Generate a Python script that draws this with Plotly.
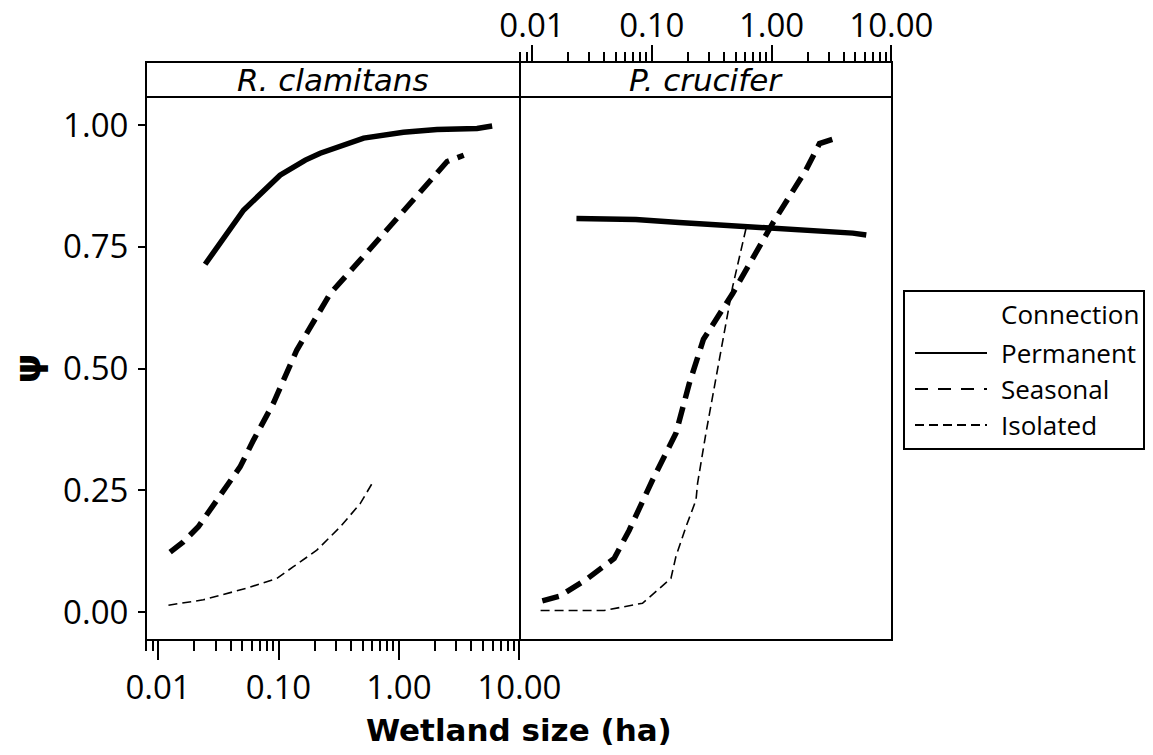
import plotly.graph_objects as go

# ---------------- data ----------------
panels = ["R. clamitans", "P. crucifer"]
series = ["Permanent", "Seasonal", "Isolated"]

rc_perm_x = [0.0246, 0.0512, 0.103, 0.167, 0.222, 0.509, 1.09, 2.07, 4.45, 5.94]
rc_perm_y = [0.714, 0.825, 0.897, 0.928, 0.942, 0.973, 0.985, 0.991, 0.993, 0.998]
rc_seas_x = [0.0126, 0.0162, 0.0216, 0.0327, 0.048, 0.062, 0.0908, 0.142, 0.269, 0.478, 1.09, 2.51, 3.45]
rc_seas_y = [0.123, 0.144, 0.175, 0.237, 0.298, 0.353, 0.429, 0.538, 0.654, 0.723, 0.825, 0.925, 0.938]
rc_isol_x = [0.0122, 0.0238, 0.0546, 0.097, 0.133, 0.208, 0.326, 0.478, 0.605]
rc_isol_y = [0.014, 0.025, 0.049, 0.069, 0.093, 0.127, 0.175, 0.223, 0.266]

pc_perm_x = [0.0235, 0.0736, 0.169, 0.505, 1.32, 4.76, 6.17]
pc_perm_y = [0.808, 0.806, 0.800, 0.793, 0.788, 0.778, 0.774]
pc_seas_x = [0.0122, 0.0168, 0.0281, 0.0485, 0.0648, 0.1014, 0.159, 0.206, 0.27, 0.473, 1.02, 1.94, 2.51, 3.46]
pc_seas_y = [0.023, 0.032, 0.066, 0.110, 0.168, 0.271, 0.367, 0.470, 0.56, 0.654, 0.798, 0.908, 0.962, 0.973]
pc_isol_x = [0.0118, 0.040, 0.0836, 0.1445, 0.159, 0.193, 0.234, 0.241, 0.283, 0.39, 0.473, 0.612]
pc_isol_y = [0.003, 0.003, 0.018, 0.069, 0.114, 0.175, 0.230, 0.264, 0.367, 0.5585, 0.668, 0.788]

x_major = [0.01, 0.1, 1, 10]
x_major_text = ["0.01", "0.10", "1.00", "10.00"]
x_minor_mult = [2, 3, 4, 5, 6, 7, 8, 9]
x_minor_decades = [0.001, 0.01, 0.1, 1]
y_ticks = [0.0, 0.25, 0.5, 0.75, 1.0]
y_text = ["0.00", "0.25", "0.50", "0.75", "1.00"]

# ---------------- layout geometry ----------------
W, H = 1153, 755
ML, MR, MT, MB = 146, 261, 62, 115
PW, PH = W - ML - MR, H - MT - MB
split = (520 - ML) / PW
strip_y = (640 - 97) / PH
XR = [-2.1, 1.005]
YR = [-0.0575, 1.0575]

x_minor = [m * d for d in x_minor_decades for m in x_minor_mult if 0.0079 < m * d < 10.1]

FONT = "Open Sans"
STRIPFONT = "DejaVu Sans"
styles = {
    "Permanent": dict(width=5.5, dash="solid"),
    "Seasonal": dict(width=5.5, dash="17px,9px"),
    "Isolated": dict(width=1.6, dash="9px,5px"),
}

fig = go.Figure()
data_rc = {"Permanent": (rc_perm_x, rc_perm_y), "Seasonal": (rc_seas_x, rc_seas_y), "Isolated": (rc_isol_x, rc_isol_y)}
data_pc = {"Permanent": (pc_perm_x, pc_perm_y), "Seasonal": (pc_seas_x, pc_seas_y), "Isolated": (pc_isol_x, pc_isol_y)}
for s in series:
    xs, ys = data_rc[s]
    fig.add_trace(go.Scatter(x=xs, y=ys, mode="lines", name=s, xaxis="x", yaxis="y",
                             line=dict(color="black", **styles[s]), showlegend=False))
for s in series:
    xs, ys = data_pc[s]
    fig.add_trace(go.Scatter(x=xs, y=ys, mode="lines", name=s, xaxis="x2", yaxis="y",
                             line=dict(color="black", **styles[s]), showlegend=False))

tickfont = dict(family=FONT, size=33, color="black")
minor = dict(tickmode="array", tickvals=x_minor, ticks="outside", ticklen=10,
             tickwidth=1.5, tickcolor="black", showgrid=False)
common_x = dict(type="log", range=XR, showgrid=False, zeroline=False, showline=False,
                ticks="outside", tickcolor="black", automargin=False,
                tickmode="array", tickvals=x_major, ticktext=x_major_text,
                tickwidth=2, tickfont=tickfont, minor=minor)

fig.update_layout(
    width=W, height=H,
    margin=dict(l=ML, r=MR, t=MT, b=MB, autoexpand=False),
    paper_bgcolor="white", plot_bgcolor="white",
    showlegend=False,
    xaxis=dict(common_x, domain=[0, split], anchor="y", side="bottom",
               ticklen=19, ticklabelstandoff=-1),
    xaxis2=dict(common_x, domain=[split, 1], anchor="free", position=1, side="top",
                ticklen=17, ticklabelstandoff=-5),
    yaxis=dict(range=YR, domain=[0, strip_y], anchor="x", showgrid=False, zeroline=False,
               showline=False, tickmode="array", tickvals=y_ticks, ticktext=y_text,
               ticks="outside", ticklen=7, tickwidth=2, tickcolor="black", automargin=False,
               tickfont=tickfont, ticklabelstandoff=3,
               title=dict(text="<b>ψ</b>", font=dict(family="DejaVu Sans", size=38, color="black"), standoff=10)),
)

shapes = []
# panel frames
for x0, x1 in [(0, split), (split, 1)]:
    shapes.append(dict(type="rect", xref="paper", yref="paper", x0=x0, x1=x1, y0=0, y1=1,
                       line=dict(color="black", width=2)))
shapes.append(dict(type="line", xref="paper", yref="paper", x0=0, x1=1, y0=strip_y, y1=strip_y,
                   line=dict(color="black", width=2)))

annotations = []
for i, name in enumerate(panels):
    xc = split / 2 if i == 0 else (split + 1) / 2
    annotations.append(dict(text="<i>" + name + "</i>", x=xc, y=(1 + strip_y) / 2, xref="paper", yref="paper",
                            showarrow=False, font=dict(family=STRIPFONT, size=31, color="black"),
                            xanchor="center", yanchor="middle"))

# x title (centered over the whole panel layout)
annotations.append(dict(text="<b>Wetland size (ha)</b>", x=0.5, y=(640 - 730) / PH, xref="paper", yref="paper",
                        showarrow=False, font=dict(family="DejaVu Sans", size=31, color="black"),
                        xanchor="center", yanchor="middle"))

# legend (manual key)
def px_x(p):
    return (p - ML) / PW

def px_y(p):
    return (640 - p) / PH

shapes.append(dict(type="rect", xref="paper", yref="paper", x0=px_x(904), x1=px_x(1144),
                   y0=px_y(449), y1=px_y(291), line=dict(color="black", width=2), fillcolor="white"))
annotations.append(dict(text="Connection", x=px_x(999), y=px_y(314), xref="paper", yref="paper",
                        showarrow=False, xanchor="left", yanchor="middle",
                        font=dict(family=FONT, size=26, color="black")))
key_y = {"Permanent": 353, "Seasonal": 389, "Isolated": 425}
key_dash = {"Permanent": "solid", "Seasonal": "13px,10px", "Isolated": "9px,5px"}
for s in series:
    shapes.append(dict(type="line", xref="paper", yref="paper", x0=px_x(915), x1=px_x(987),
                       y0=px_y(key_y[s]), y1=px_y(key_y[s]),
                       line=dict(color="black", width=2, dash=key_dash[s])))
    annotations.append(dict(text=s, x=px_x(999), y=px_y(key_y[s]), xref="paper", yref="paper",
                            showarrow=False, xanchor="left", yanchor="middle",
                            font=dict(family=FONT, size=26, color="black")))

fig.update_layout(shapes=shapes, annotations=annotations)
fig.write_html("out.html", config={"displayModeBar": False},
               post_script="document.body.style.margin='0px';document.body.style.overflow='hidden';")
